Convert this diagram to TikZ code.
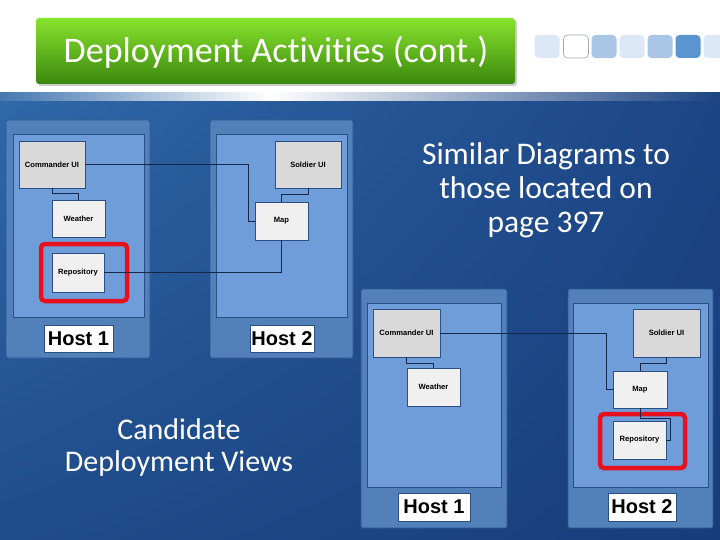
\documentclass[tikz,border=0pt]{standalone}
\usepackage{fontspec}
\setmainfont{Carlito}[Ligatures=NoCommon]
\newfontfamily\arialf{Liberation Sans}
\usetikzlibrary{calc,shadings}
\definecolor{bgL}{HTML}{3068A8}
\definecolor{bgR}{HTML}{1B4382}
\definecolor{bgUL}{HTML}{3068A8}
\definecolor{bgUR}{HTML}{1C4585}
\definecolor{bgLL}{HTML}{1F4C8B}
\definecolor{bgLR}{HTML}{173D7A}
\definecolor{outerC}{HTML}{5280B8}
\definecolor{outerB}{HTML}{2D5790}
\definecolor{innerC}{HTML}{6E9DDA}
\definecolor{innerB}{HTML}{2A4F85}
\definecolor{grayC}{HTML}{D9D9D9}
\definecolor{whiteC}{HTML}{F0F0F0}
\definecolor{lineC}{HTML}{15284A}
\definecolor{redC}{HTML}{E8101C}
\definecolor{gTop}{HTML}{88E32C}
\definecolor{gBot}{HTML}{3A880E}
\definecolor{sqA}{RGB}{220,232,245}
\definecolor{sqB}{RGB}{169,198,230}
\definecolor{sqC}{RGB}{91,149,207}
\definecolor{sqE}{RGB}{160,170,180}
\tikzset{
  hostouter/.style={draw=outerB, fill=outerC, line width=0.8pt, rounded corners=2pt, inner sep=0pt},
  hostinner/.style={draw=innerB, fill=innerC, line width=0.6pt, inner sep=0pt},
  hostlabel/.style={draw=innerB, fill=white, line width=0.6pt, inner sep=0pt, font=\arialf\bfseries\fontsize{20}{22}\selectfont},
  compgray/.style={draw=innerB, fill=grayC, line width=0.5pt, inner sep=0pt, font=\arialf\bfseries\fontsize{7.6}{8}\selectfont},
  compwhite/.style={draw=innerB, fill=whiteC, line width=0.5pt, inner sep=0pt, font=\arialf\bfseries\fontsize{7.6}{8}\selectfont},
  redframe/.style={draw=redC, line width=4.5pt, rounded corners=4pt, inner sep=0pt},
  conn/.style={draw=lineC, line width=0.8pt},
  sq/.style={rounded corners=4pt, inner sep=0pt, minimum width=25pt, minimum height=23pt},
  bigtext/.style={text=white, align=center},
}
\begin{document}
\begin{tikzpicture}[x=1pt,y=-1pt]
\useasboundingbox (0,0) rectangle (720,540);
% background
\fill[white] (0,0) rectangle (720,94);
\shade[upper left=bgUL, upper right=bgUR, lower left=bgLL, lower right=bgLR] (0,100) rectangle (720,540);
\shade[left color=bgL!90!white, right color=white] (0,93) rectangle (270,101);
\shade[left color=white, right color=bgR] (270,93) rectangle (720,101);
% title
\fill[black, opacity=0.2, rounded corners=3pt] (38,20) rectangle (517,86);
\shade[top color=gTop, bottom color=gBot, rounded corners=3pt] (36,18) rectangle (515,84);
\node[text=white, anchor=base, font=\fontsize{36}{40}\selectfont, inner sep=0pt] (title) at (276,63) {Deployment Activities (cont.)};
% squares
\node[sq, fill=sqA] (s1) at (547,46.5) {};
\node[sq, fill=white, draw=sqE, line width=0.6pt] (s2) at (576,46.5) {};
\node[sq, fill=sqB] (s3) at (604,46.5) {};
\node[sq, fill=sqA] (s4) at (632,46.5) {};
\node[sq, fill=sqB] (s5) at (660,46.5) {};
\node[sq, fill=sqC] (s6) at (688,46.5) {};
\node[sq, fill=sqA] (s7) at (716,46.5) {};
% ---------- diagram 1 ----------
\node[hostouter, minimum width=144pt, minimum height=238pt] (h1o) at (78,239) {};
\node[hostinner, minimum width=131pt, minimum height=183pt] (h1i) at (78.5,225.5) {};
\node[hostlabel, minimum width=69pt, minimum height=27pt] (h1l) at (78.5,338.5) {Host 1};
\node[hostouter, minimum width=143pt, minimum height=238pt] (h2o) at (281.5,239) {};
\node[hostinner, minimum width=131pt, minimum height=183pt] (h2i) at (281.5,225.5) {};
\node[hostlabel, minimum width=64pt, minimum height=27pt] (h2l) at (282,338.5) {Host 2};
\node[compgray, minimum width=66pt, minimum height=47pt] (cui1) at (52,164.5) {Commander UI};
\node[compwhite, minimum width=53pt, minimum height=37pt] (wea1) at (78.5,218.5) {Weather};
\node[compwhite, minimum width=52pt, minimum height=39pt] (rep1) at (78,272.5) {Repository};
\node[compgray, minimum width=66pt, minimum height=47pt] (sui1) at (308,164.5) {Soldier UI};
\node[compwhite, minimum width=53pt, minimum height=38pt] (map1) at (281.5,221) {Map};
\node[redframe, minimum width=86pt, minimum height=57pt] (red1) at (84,272.5) {};
\draw[conn] (cui1.east) -| ([xshift=-6pt]map1.west) -- (map1.west);
\draw[conn] (cui1.south) -- ++(0,5) -| (wea1.north);
\draw[conn] (sui1.south) -- ++(0,6) -| (map1.north);
\draw[conn] (rep1.east) -| (map1.south);
% ---------- diagram 2 ----------
\node[hostouter, minimum width=146pt, minimum height=239pt] (h3o) at (434,408.5) {};
\node[hostinner, minimum width=134pt, minimum height=184pt] (h3i) at (434,395) {};
\node[hostlabel, minimum width=72pt, minimum height=28pt] (h3l) at (434,507) {Host 1};
\node[hostouter, minimum width=145pt, minimum height=239pt] (h4o) at (640.5,408.5) {};
\node[hostinner, minimum width=135pt, minimum height=184pt] (h4i) at (640.5,395) {};
\node[hostlabel, minimum width=68pt, minimum height=28pt] (h4l) at (642,507) {Host 2};
\node[compgray, minimum width=67pt, minimum height=48pt] (cui2) at (406.5,333) {Commander UI};
\node[compwhite, minimum width=53pt, minimum height=38pt] (wea2) at (433.5,387) {Weather};
\node[compgray, minimum width=67pt, minimum height=48pt] (sui2) at (666.5,333) {Soldier UI};
\node[compwhite, minimum width=54pt, minimum height=37pt] (map2) at (640,389.5) {Map};
\node[compwhite, minimum width=53pt, minimum height=38pt] (rep2) at (639.5,440) {Repository};
\node[redframe, minimum width=85pt, minimum height=54pt] (red2) at (642.5,441) {};
\draw[conn] (cui2.east) -| ([xshift=-6pt]map2.west) -- (map2.west);
\draw[conn] (cui2.south) -- ++(0,6) -| (wea2.north);
\draw[conn] (sui2.south) -- ++(0,6) -| (map2.north);
\draw[conn] (map2.south) -- ++(0,10) -| ([xshift=4pt]rep2.east) -- (rep2.east);
% texts
\node[bigtext, font=\fontsize{31.5}{34}\selectfont] (sim) at (546,190) {Similar Diagrams to\\those located on\\page 397};
\node[bigtext, font=\fontsize{30}{32}\selectfont] (cand) at (179,447) {Candidate\\Deployment Views};
\end{tikzpicture}
\end{document}
